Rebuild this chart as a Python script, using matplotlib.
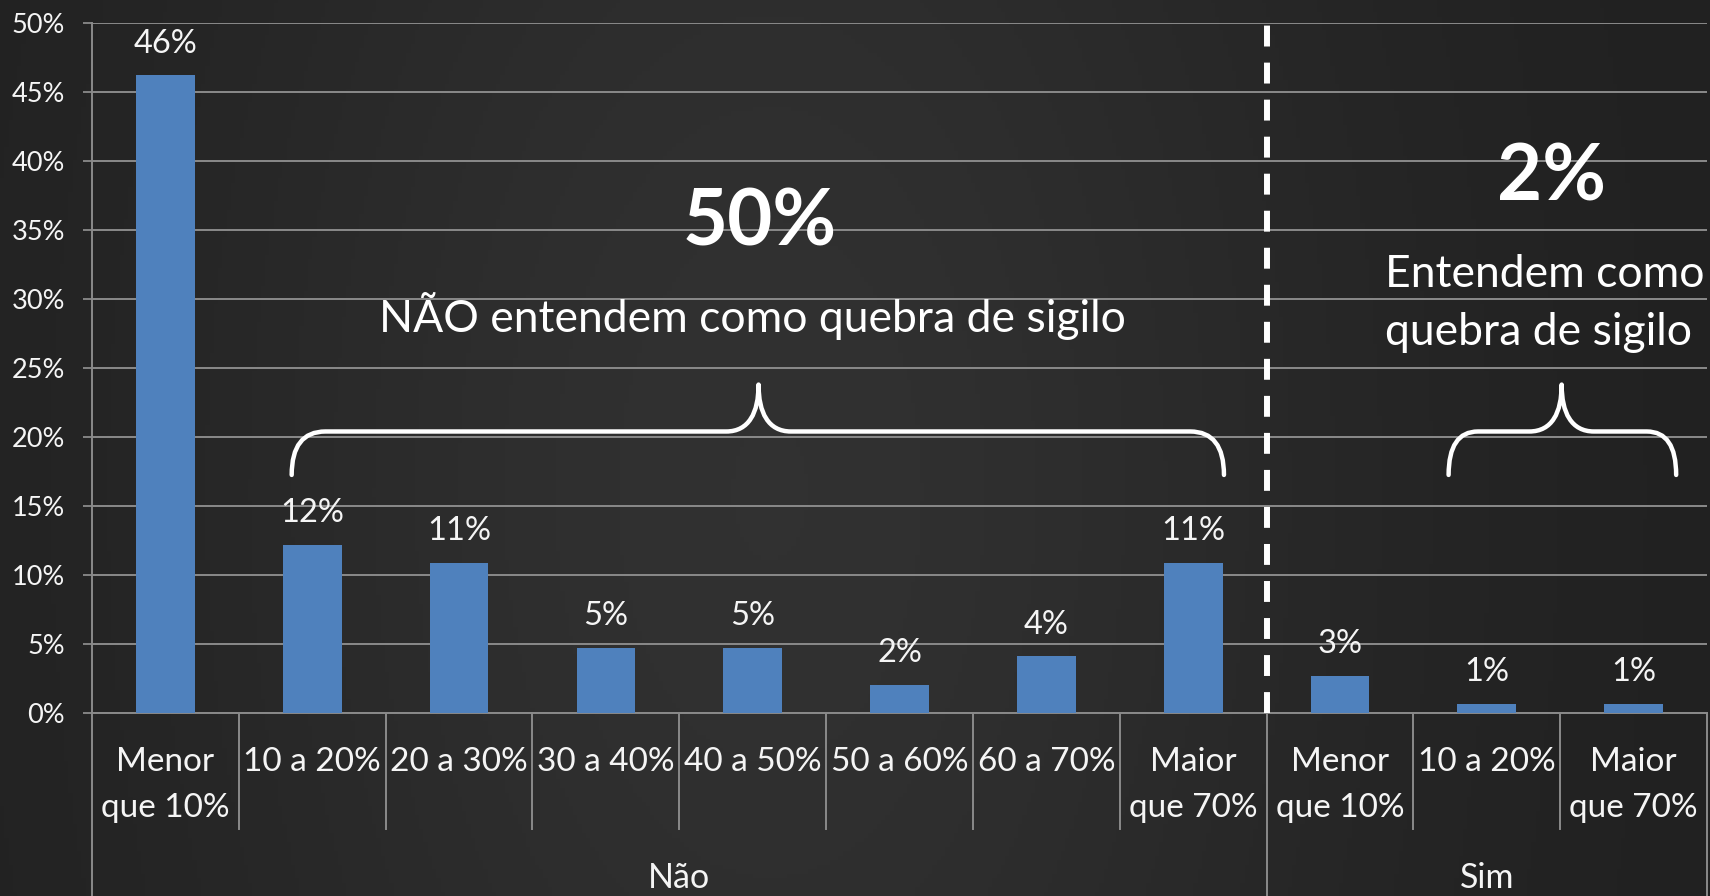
import numpy as np
import matplotlib.pyplot as plt
import matplotlib.transforms as mtransforms
from matplotlib.path import Path
from matplotlib.patches import PathPatch
from matplotlib.colors import LinearSegmentedColormap

plt.rcParams['font.family'] = ['Lato', 'DejaVu Sans']

# Data
group_names = ['Não', 'Sim']
group_sizes = [8, 3]
categories = ['Menor\nque 10%', '10 a 20%', '20 a 30%', '30 a 40%', '40 a 50%',
              '50 a 60%', '60 a 70%', 'Maior\nque 70%',
              'Menor\nque 10%', '10 a 20%', 'Maior\nque 70%']
values = [46.2, 12.2, 10.9, 4.7, 4.7, 2.0, 4.1, 10.9, 2.7, 0.65, 0.65]
y_ticks = [0, 5, 10, 15, 20, 25, 30, 35, 40, 45, 50]
totals = ['50%', '2%']

BAR = '#4f81bd'
GRID = '#8a8a8a'
TXT = '#f5f5f5'

W, H = 1710, 896
fig = plt.figure(figsize=(W / 100, H / 100), dpi=100)

# background gradient
bg = fig.add_axes([0, 0, 1, 1], zorder=-10)
gx = np.linspace(0, 1, 400)
gy = np.linspace(0, 1, 200)
X, Y = np.meshgrid(gx, gy)
shade = np.exp(-((X - 0.45) / 0.35) ** 2 - ((Y - 0.55) / 1.2) ** 2)
cmap = LinearSegmentedColormap.from_list('bg', ['#202020', '#313131'])
bg.imshow(shade, cmap=cmap, aspect='auto', extent=[0, 1, 0, 1], vmin=0, vmax=1)
bg.set_axis_off()

left, right, top, bottom = 92, 1707, 23, 713
ax = fig.add_axes([left / W, (H - bottom) / H, (right - left) / W, (bottom - top) / H])
ax.set_facecolor('none')

x = np.arange(len(values))
ax.bar(x, values, width=0.4, color=BAR, zorder=3)
ax.set_xlim(-0.5, len(values) - 0.5)
ax.set_ylim(0, 50)

ax.set_yticks(y_ticks)
ax.set_yticklabels(['%d%%' % t for t in y_ticks], fontsize=19.5, color=TXT)
ax.tick_params(axis='y', length=6.5, width=1.3, color=GRID, pad=13)
ax.set_xticks([])
ax.grid(axis='y', color=GRID, lw=1.4, zorder=0)
ax.set_axisbelow(True)
for s in ['top', 'right']:
    ax.spines[s].set_visible(False)
for s in ['left', 'bottom']:
    ax.spines[s].set_color(GRID)
    ax.spines[s].set_linewidth(1.4)

# data labels
for xi, v in zip(x, values):
    ax.annotate('%.0f%%' % v, (xi, v), xytext=(0, 16.5), textcoords='offset points',
                ha='center', va='baseline', fontsize=23.5, color=TXT)

# category axis: labels and divider lines
tr = mtransforms.blended_transform_factory(ax.transData, ax.transAxes)
h_ax = bottom - top
inner_end = -(829 - bottom) / h_ax
outer_end = -(H - bottom) / h_ax
bounds = np.cumsum([0] + group_sizes) - 0.5
for i in range(len(values) + 1):
    xb = i - 0.5
    y_end = outer_end if xb in bounds else inner_end
    ax.plot([xb, xb], [0, y_end], transform=tr, color=GRID, lw=1.4, clip_on=False)

for xi, lab in zip(x, categories):
    ax.text(xi, -0.049, lab, transform=tr, ha='center', va='top', fontsize=24,
            color=TXT, linespacing=1.68)

for g, name in enumerate(group_names):
    xc = (bounds[g] + bounds[g + 1]) / 2
    ax.text(xc, -(878 - bottom) / h_ax, name, transform=tr, ha='center', va='center',
            fontsize=24.5, color=TXT)

# dashed separator between groups
ax.plot([bounds[1], bounds[1]], [0, 50], color='white', lw=4.3, zorder=4,
        dashes=(3.5, 2.7), clip_on=False)


def brace(x0, x1, xt, yb, yl, yt, r, s):
    verts = [(x0, yb), (x0, yl), (x0 + r, yl),
             (xt - s, yl),
             (xt - 0.3 * s, yl), (xt, yl + 0.4 * (yt - yl)), (xt, yt),
             (xt, yl + 0.4 * (yt - yl)), (xt + 0.3 * s, yl), (xt + s, yl),
             (x1 - r, yl),
             (x1, yl), (x1, yb)]
    codes = [Path.MOVETO, Path.CURVE3, Path.CURVE3,
             Path.LINETO,
             Path.CURVE4, Path.CURVE4, Path.CURVE4,
             Path.CURVE4, Path.CURVE4, Path.CURVE4,
             Path.LINETO,
             Path.CURVE3, Path.CURVE3]
    ax.add_patch(PathPatch(Path(verts, codes), fill=False, ec='white', lw=3.2,
                           capstyle='round', joinstyle='round', zorder=5))


brace(0.86, 7.21, 4.04, 17.25, 20.4, 23.8, 0.23, 0.22)
brace(8.74, 10.29, 9.51, 17.25, 20.4, 23.8, 0.2, 0.22)

# callout texts
ax.text(4.05, 35.5, totals[0], ha='center', va='center', fontsize=56,
        fontweight='bold', color='white')
ax.text(4.0, 28.8, 'NÃO entendem como quebra de sigilo', ha='center', va='center',
        fontsize=32, color='white')
ax.text(9.44, 38.7, totals[1], ha='center', va='center', fontsize=56,
        fontweight='bold', color='white')
ax.text(8.31, 30.9, 'Entendem como', ha='left', va='baseline', fontsize=32, color='white')
ax.text(8.31, 26.7, 'quebra de sigilo', ha='left', va='baseline', fontsize=32, color='white')

fig.savefig('out.png', dpi=100)
